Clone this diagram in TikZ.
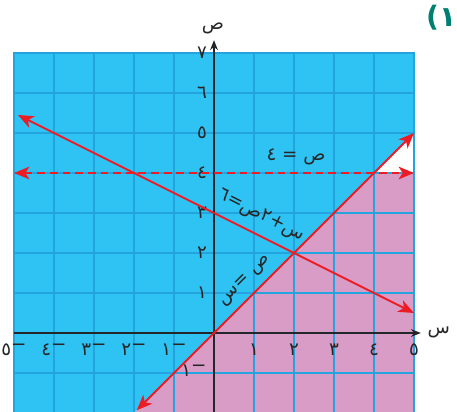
\documentclass[tikz,border=0pt]{standalone}
\usepackage{fontspec}
\setmainfont{DejaVu Sans}
\newfontfamily\arabicfont[Script=Arabic]{DejaVu Sans}
\TeXXeTstate=1
\usetikzlibrary{arrows.meta}

\definecolor{skyfill}{RGB}{46,195,243}
\definecolor{gridblue}{RGB}{36,164,222}
\definecolor{pinkfill}{RGB}{216,156,198}
\definecolor{linered}{RGB}{237,28,36}
\definecolor{axisgray}{RGB}{35,38,42}
\definecolor{tealnum}{RGB}{0,128,112}

\newcommand*{\xmin}{-5}
\newcommand*{\xmax}{5}
\newcommand*{\ymin}{-2}
\newcommand*{\ymax}{7}
\newcommand*{\negnum}[1]{#1\raisebox{0.5ex}{−}}

\tikzset{
	redline/.style={linered,line width=1.3pt,{Stealth[length=11pt,width=9pt,inset=3pt]}-{Stealth[length=11pt,width=9pt,inset=3pt]}},
	ticklabel/.style={font=\arabicfont\fontsize{13}{15}\selectfont,inner sep=0pt,text=black!85},
	eqlabel/.style={font=\arabicfont\fontsize{13}{15}\selectfont,inner sep=0pt,text=black!85}
}

\begin{document}
\begin{tikzpicture}

	\useasboundingbox (-5.35,-1.975) rectangle (6.075,8.325);

	% regions
	\fill[skyfill] (\xmin,\ymin) -- (-2,-2) -- (5,5) -- (\xmax,\ymax) -- (\xmin,\ymax) -- cycle;
	\fill[pinkfill] (-2,-2) -- (4,4) -- (5,4) -- (\xmax,\ymin) -- cycle;

	% grid
	\draw[gridblue,line width=0.8pt] (\xmin,\ymin) grid (\xmax,\ymax);
	\draw[gridblue,line width=1.2pt] (\xmin,\ymin) -- (\xmin,\ymax) -- (\xmax,\ymax) -- (\xmax,\ymin);

	% axes
	\coordinate (xaxis-lo) at (\xmin,0);
	\coordinate (xaxis-hi) at (5.17,0);
	\coordinate (yaxis-lo) at (0,\ymin);
	\coordinate (yaxis-hi) at (0,7.32);
	\draw[axisgray,line width=1.2pt,-{Stealth[length=7pt,width=5.5pt]}] (xaxis-lo) -- (xaxis-hi);
	\draw[axisgray,line width=1.2pt,-{Stealth[length=7pt,width=5.5pt]}] (yaxis-lo) -- (yaxis-hi);
	\node[eqlabel] (xname) at (5.62,0.02) {\beginR س\endR};
	\node[eqlabel] (yname) at (-0.03,7.62) {\beginR ص\endR};

	% tick labels
	\foreach \y/\d in {1/١,2/٢,3/٣,4/٤,5/٥,6/٦,7/٧}
		\node[ticklabel] (ytick\y) at (-0.3,\y) {\d};
	\foreach \x/\d in {1/١,2/٢,3/٣,4/٤,5/٥}
		\node[ticklabel] (xtick\x) at (\x,-0.42) {\d};
	\foreach \x/\d in {1/١,2/٢,3/٣,4/٤,5/٥}
		\node[ticklabel] (xtickneg\x) at (-\x,-0.42) {\negnum{\d}};
	\node[ticklabel] (ytickneg1) at (-0.5,-0.95) {\negnum{١}};

	% lines
	\coordinate (diag-lo) at (-1.93,-1.93);
	\coordinate (diag-hi) at (5,5);
	\coordinate (slant-lo) at (-4.9,5.45);
	\coordinate (slant-hi) at (5,0.5);
	\coordinate (dash-lo) at (\xmin,4);
	\coordinate (dash-hi) at (\xmax,4);
	\draw[redline] (diag-lo) -- (diag-hi);
	\draw[redline] (slant-lo) -- (slant-hi);
	\draw[redline,dash pattern=on 5.5pt off 3.5pt] (dash-lo) -- (dash-hi);

	\node[eqlabel] (eq-dash) at (2.05,4.4) {\beginR ص = ٤\endR};
	\node[eqlabel,rotate=-26.57] (eq-slant) at (1.18,2.93) {\beginR س+٢ص=٦\endR};
	\node[eqlabel,rotate=45] (eq-diag) at (0.78,1.3) {\beginR ص =س\endR};

	\node[font=\bfseries\fontsize{20}{22}\selectfont,text=tealnum,inner sep=0pt] (partno) at (5.68,7.88) {(١};

\end{tikzpicture}
\end{document}
